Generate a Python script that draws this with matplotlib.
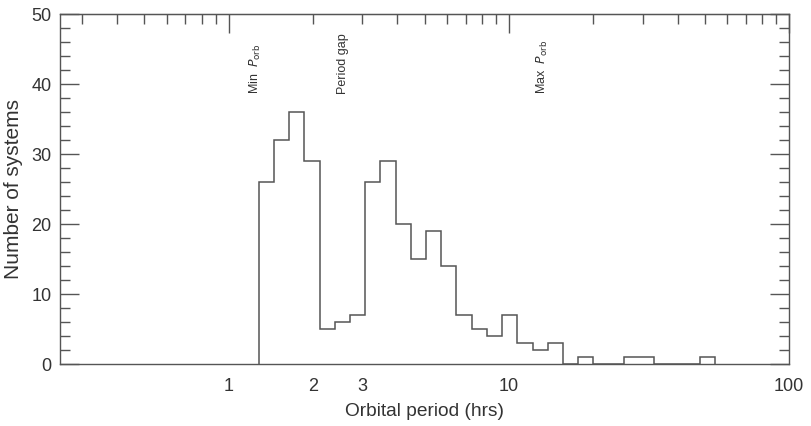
import matplotlib
matplotlib.use("Agg")
import matplotlib.pyplot as plt
from matplotlib.ticker import LogLocator, MultipleLocator, NullFormatter, NullLocator

# Histogram of orbital periods (log-spaced bins, edges in hours)
bin_edges = [1.28, 1.45, 1.64, 1.86, 2.11, 2.39, 2.71, 3.07, 3.48, 3.94,
             4.47, 5.06, 5.74, 6.50, 7.36, 8.34, 9.46, 10.72, 12.14, 13.76,
             15.59, 17.67, 20.02, 22.69, 25.70, 29.13, 33.01, 37.40, 42.38,
             48.03, 54.42]
counts = [26, 32, 36, 29, 5, 6, 7, 26, 29, 20,
          15, 19, 14, 7, 5, 4, 7, 3, 2, 3,
          0, 1, 0, 0, 1, 1, 0, 0, 0, 1]

x_ticks = [1, 2, 3, 10, 100]
x_ticklabels = ["1", "2", "3", "10", "100"]

# vertical markers written above the histogram
marker_x = [1.25, 2.55, 13.2]
marker_text = [r"Min  $P_{\rm orb}$", "Period gap", r"Max  $P_{\rm orb}$"]

plt.rcParams["font.family"] = ["Liberation Sans", "DejaVu Sans"]
line_col = "#555555"
text_col = "#333333"

fig = plt.figure(figsize=(8.11, 4.26), dpi=100)
ax = fig.add_axes([0.074, 0.1455, 0.899, 0.8215])

ax.stairs(counts, bin_edges, baseline=0, color=line_col, lw=1.1)

ax.set_xscale("log")
ax.set_xlim(0.25, 100)
ax.set_ylim(0, 50)

# bottom: labels only
ax.set_xticks(x_ticks)
ax.set_xticklabels(x_ticklabels)
ax.xaxis.set_minor_locator(NullLocator())
ax.tick_params(axis="x", which="both", length=0, pad=10, labelsize=13, labelcolor=text_col)

# top: log ticks, no labels
top = ax.secondary_xaxis("top")
top.xaxis.set_major_locator(LogLocator(base=10))
top.xaxis.set_minor_locator(LogLocator(base=10, subs=range(2, 10)))
top.xaxis.set_major_formatter(NullFormatter())
top.xaxis.set_minor_formatter(NullFormatter())
top.tick_params(which="major", direction="in", length=13.5, width=1, color=line_col)
top.tick_params(which="minor", direction="in", length=7, width=1, color=line_col)
top.spines["top"].set_color(line_col)

# y axis: ticks both sides, inward
ax.yaxis.set_major_locator(MultipleLocator(10))
ax.yaxis.set_minor_locator(MultipleLocator(2))
ax.tick_params(axis="y", which="both", direction="in", left=True, right=True,
               color=line_col, width=1)
ax.tick_params(axis="y", which="major", length=13.5, labelsize=13, pad=6, labelcolor=text_col)
ax.tick_params(axis="y", which="minor", length=7)

for s in ax.spines.values():
    s.set_color(line_col)
    s.set_linewidth(1)

ax.set_xlabel("Orbital period (hrs)", fontsize=13.8, color=text_col, labelpad=6)
ax.set_ylabel("Number of systems", fontsize=15, color=text_col, labelpad=6)

for xm, txt in zip(marker_x, marker_text):
    ax.text(xm, 38.6, txt, rotation=90, ha="center", va="bottom",
            fontsize=9, color=text_col)

fig.savefig("out.png", dpi=100)
